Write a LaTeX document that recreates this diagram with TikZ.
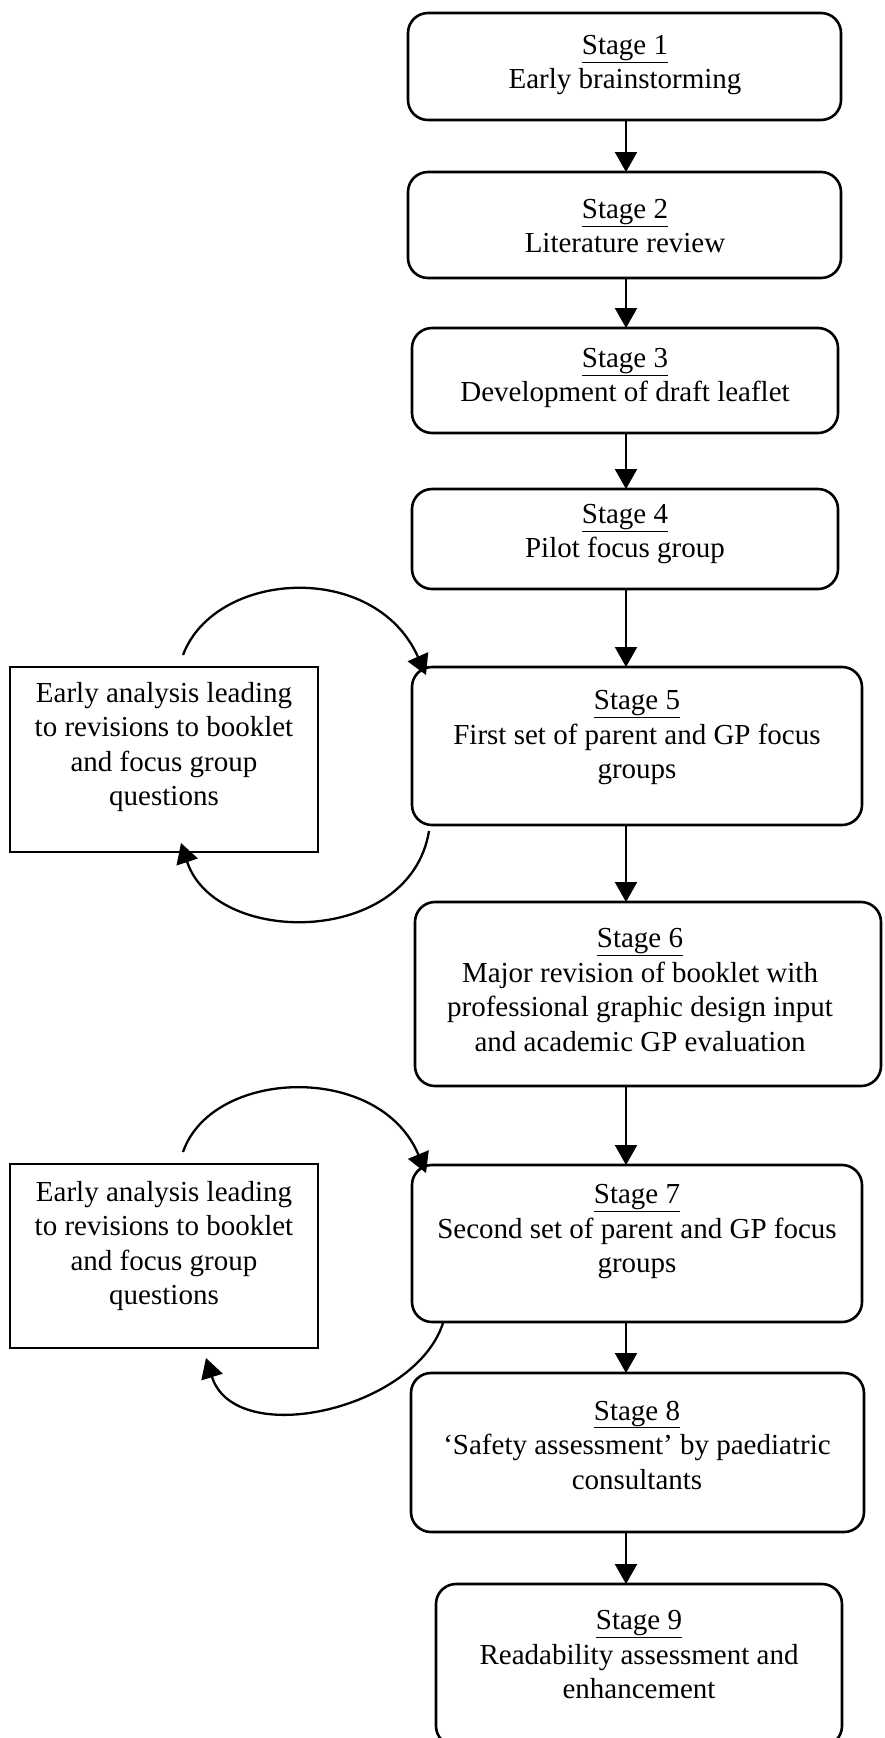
\documentclass[tikz,border=0pt]{standalone}
\usepackage{fontspec}
\setmainfont{Liberation Serif}
\usetikzlibrary{arrows.meta}
\begin{document}
\begin{tikzpicture}[x=1pt,y=-1pt,
  stagebox/.style={draw, line width=2.6pt, rounded corners=20pt, inner sep=0pt, outer sep=0pt},
  notebox/.style={draw, line width=2.6pt, inner sep=0pt, outer sep=0pt},
  txt/.style={align=center, inner sep=0pt, font=\fontsize{29}{34.5}\selectfont},
  arr/.style={line width=2.3pt, -{Triangle[length=20pt,width=22pt]}}
]
\useasboundingbox (0,0) rectangle (885,1738);
\fill[white] (0,0) rectangle (885,1738);

% stage boxes
\node[stagebox, minimum width=433pt, minimum height=107pt] (s1) at (624.5,66.5) {};
\node[stagebox, minimum width=433pt, minimum height=106pt] (s2) at (624.5,225) {};
\node[stagebox, minimum width=426pt, minimum height=105pt] (s3) at (625,380.5) {};
\node[stagebox, minimum width=426pt, minimum height=100pt] (s4) at (625,539) {};
\node[stagebox, minimum width=450pt, minimum height=158pt] (s5) at (637,746) {};
\node[stagebox, minimum width=466pt, minimum height=184pt] (s6) at (648,994) {};
\node[stagebox, minimum width=450pt, minimum height=157pt] (s7) at (637,1243.5) {};
\node[stagebox, minimum width=453pt, minimum height=159pt] (s8) at (637.5,1452.5) {};
\node[stagebox, minimum width=406pt, minimum height=162pt] (s9) at (639,1665) {};

% side boxes
\node[notebox, minimum width=308pt, minimum height=185pt] (a1) at (164,759.5) {};
\node[notebox, minimum width=308pt, minimum height=184pt] (a2) at (164,1256) {};

% texts
\node[txt] (t1) at (625,65) {\underline{Stage 1}\\Early brainstorming};
\node[txt] (t2) at (625,226) {\underline{Stage 2}\\Literature review};
\node[txt] (t3) at (625,378) {\underline{Stage 3}\\Development of draft leaflet};
\node[txt] (t4) at (625,534) {\underline{Stage 4}\\Pilot focus group};
\node[txt] (t5) at (637,738) {\underline{Stage 5}\\First set of parent and GP focus\\groups};
\node[txt] (t6) at (640,990) {\underline{Stage 6}\\Major revision of booklet with\\professional graphic design input\\and academic GP evaluation};
\node[txt] (t7) at (637,1232) {\underline{Stage 7}\\Second set of parent and GP focus\\groups};
\node[txt] (t8) at (637,1445) {\underline{Stage 8}\\`Safety assessment' by paediatric\\consultants};
\node[txt] (t9) at (639,1655) {\underline{Stage 9}\\Readability assessment and\\enhancement};
\node[txt] (ta1) at (164,747) {Early analysis leading\\to revisions to booklet\\and focus group\\questions};
\node[txt] (ta2) at (164,1246) {Early analysis leading\\to revisions to booklet\\and focus group\\questions};

% straight arrows
\coordinate (ax) at (626,0);
\draw[arr] (s1.south -| ax) -- (s2.north -| ax);
\draw[arr] (s2.south -| ax) -- (s3.north -| ax);
\draw[arr] (s3.south -| ax) -- (s4.north -| ax);
\draw[arr] (s4.south -| ax) -- (s5.north -| ax);
\draw[arr] (s5.south -| ax) -- (s6.north -| ax);
\draw[arr] (s6.south -| ax) -- (s7.north -| ax);
\draw[arr] (s7.south -| ax) -- (s8.north -| ax);
\draw[arr] (s8.south -| ax) -- (s9.north -| ax);

% loop arrows
\coordinate (c1s) at (183,655);
\coordinate (c1e) at (426,675);
\coordinate (c2s) at (429,831);
\coordinate (c2e) at (181,843);
\coordinate (c3s) at (183,1152);
\coordinate (c3e) at (426,1173);
\coordinate (c4s) at (443,1323);
\coordinate (c4e) at (206,1358);
\draw[arr] (c1s) .. controls (215,570) and (375,560) .. (c1e);
\draw[arr] (c2s) .. controls (410,947) and (215,947) .. (c2e);
\draw[arr] (c3s) .. controls (212,1068) and (380,1062) .. (c3e);
\draw[arr] (c4s) .. controls (415,1410) and (235,1450) .. (c4e);
\end{tikzpicture}
\end{document}
